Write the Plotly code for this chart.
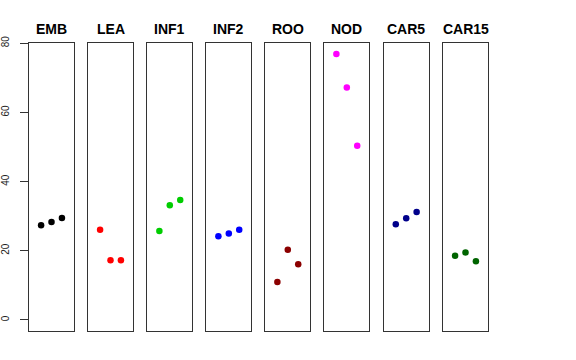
import plotly.graph_objects as go

panels = ["EMB", "LEA", "INF1", "INF2", "ROO", "NOD", "CAR5", "CAR15"]
colors = ["#000000", "#FF0000", "#00CD00", "#0000FF", "#8B0000", "#FF00FF", "#00008B", "#006400"]
x_pos = [1, 2, 3]
emb = [27.4, 28.3, 29.5]
lea = [26.1, 17.3, 17.3]
inf1 = [25.7, 33.2, 34.7]
inf2 = [24.2, 25.0, 26.1]
roo = [11.0, 20.3, 16.1]
nod = [76.9, 67.2, 50.4]
car5 = [27.7, 29.4, 31.2]
car15 = [18.6, 19.5, 17.0]
values = [emb, lea, inf1, inf2, roo, nod, car5, car15]
y_ticks = [0, 20, 40, 60, 80]

W, H = 576, 360
lefts = [29, 88, 147.3, 206.3, 265.3, 324.3, 383.7, 443]
pw = 45
ybot, ytop = 330.7, 43.3

fig = go.Figure()
layout = dict(
    width=W, height=H, margin=dict(l=0, r=0, t=0, b=0, autoexpand=False),
    paper_bgcolor="white", plot_bgcolor="white", showlegend=False,
    font=dict(family="Liberation Sans, Arial, sans-serif", color="black"),
)
annotations = []
for i, (name, col, vals) in enumerate(zip(panels, colors, values)):
    sfx = "" if i == 0 else str(i + 1)
    fig.add_trace(go.Scatter(
        x=x_pos, y=vals, mode="markers",
        marker=dict(color=col, size=6.5, line=dict(width=0)),
        xaxis="x" + sfx, yaxis="y" + sfx, hoverinfo="skip"))
    x0 = lefts[i] / W
    x1 = (lefts[i] + pw) / W
    layout["xaxis" + sfx] = dict(
        domain=[x0, x1], range=[-0.16, 4.16], showticklabels=False, ticks="",
        showgrid=False, zeroline=False, showline=True, mirror=True,
        linecolor="#333333", linewidth=1, anchor="y" + sfx, automargin=False)
    yax = dict(
        domain=[(H - ybot) / H, (H - ytop) / H], range=[-3.1, 80],
        showgrid=False, zeroline=False, showline=True, mirror=True,
        linecolor="#333333", linewidth=1, anchor="x" + sfx, automargin=False)
    if i == 0:
        yax.update(tickmode="array", tickvals=y_ticks, ticktext=[str(v) for v in y_ticks],
                   ticks="outside", ticklen=8, tickcolor="#333333", tickwidth=1,
                   ticklabelstandoff=7,
                   tickangle=-90, tickfont=dict(size=10, color="#222222"))
    else:
        yax.update(showticklabels=False, ticks="")
    layout["yaxis" + sfx] = yax
    annotations.append(dict(
        text="<b>" + name + "</b>", x=(x0 + x1) / 2, y=(H - 29) / H,
        xref="paper", yref="paper", showarrow=False,
        xanchor="center", yanchor="middle",
        font=dict(size=14, color="black", family="Liberation Sans, Arial, sans-serif")))
layout["annotations"] = annotations
fig.update_layout(**layout)
fig.write_html("out.html", config={"displayModeBar": False},
               post_script="document.body.style.margin='0';")
